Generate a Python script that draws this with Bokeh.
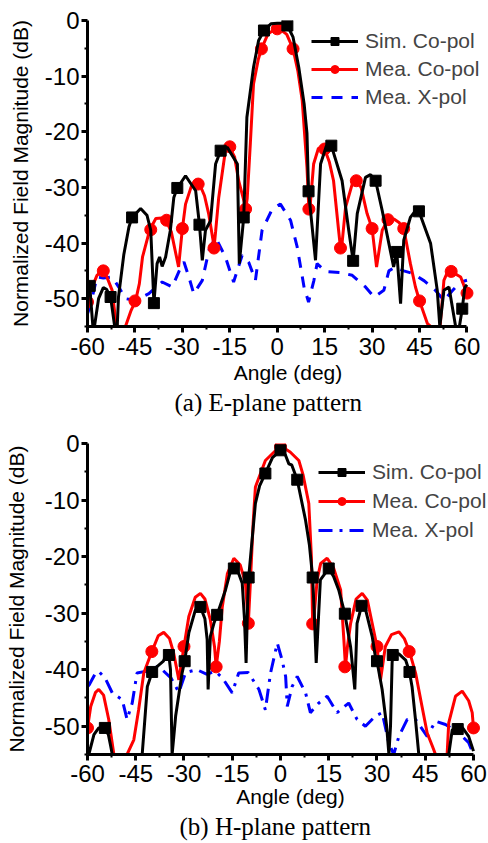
from bokeh.plotting import figure
from bokeh.layouts import column
from bokeh.models import (Legend, LegendItem, Title, FixedTicker, Range1d,
                          CustomJSTickFormatter)
from bokeh.embed import file_html
from bokeh.resources import INLINE

# ---------------- data : E-plane ----------------
e_sim_angle = [-60, -59.3, -58.3, -57.8, -56.5, -55, -54, -52.7, -51.4, -50.6, -50.2, -48.5, -46.9, -45.9, -43.2, -41.2, -40, -39, -38, -37.2, -36.4, -35.3, -33.8, -32.7, -31.6, -29, -25.8, -24.6, -23.7, -22.7, -21.1, -19.5, -17.9, -15.8, -12.6, -12, -10.6, -9.6, -7.5, -5.9, -4.2, -2, 0, 2, 3.2, 5, 6.8, 8.5, 9.4, 9.9, 12.1, 13.7, 15.5, 17.1, 20.5, 22.6, 24, 25.3, 27.9, 29.5, 31.1, 33.2, 35.3, 36.8, 37.8, 39, 40, 42.1, 44.2, 44.8, 48.5, 50.6, 51.4, 52.7, 54.3, 56.4, 57.6, 58.5, 59.3, 60]
e_sim_db = [-46.7, -47.7, -55, -55, -50, -48, -48.3, -49.7, -55, -55, -49.7, -42, -37.1, -35.4, -33.8, -35, -37.7, -50.8, -43.7, -42.5, -44.2, -42.5, -37.7, -31.8, -30.1, -27.9, -30.6, -36.7, -43.1, -37.7, -36, -25.8, -23.4, -22.8, -25.8, -43.7, -35.4, -17.4, -8.4, -3.6, -1.8, -0.6, -0.5, -0.5, -0.9, -3, -8.4, -15, -20.3, -30.7, -43.1, -25.8, -22.6, -22.5, -28.8, -37.7, -43.2, -34.7, -28.2, -27.7, -28.8, -34.2, -40.1, -44.3, -41.6, -50.9, -39.5, -35.4, -33.8, -34.3, -40.1, -48.5, -55, -48.5, -47.9, -55, -55, -51.8, -48, -47.5]
e_sim_mark_angle = [-59.3, -52.7, -45.9, -39, -31.6, -24.6, -17.9, -10.6, -4.2, 3.2, 9.9, 17.1, 24, 31.1, 37.8, 44.8, 58.5]
e_sim_mark_db = [-47.7, -49.7, -35.4, -50.8, -30.1, -36.7, -23.4, -35.4, -1.8, -0.9, -30.7, -22.5, -43.2, -28.8, -41.6, -34.3, -51.8]

e_mea_angle = [-60, -59.4, -57, -55, -54.5, -52.2, -51.1, -50.5, -48, -46.2, -44.8, -43.6, -42.6, -40.3, -38.4, -36.5, -35.2, -33.5, -31.2, -30, -29, -27, -25, -23, -21.7, -20.3, -20, -19.5, -18.5, -16.4, -15.3, -13.5, -12.2, -10.5, -10, -9.5, -8.5, -7.5, -6, -5, -3, 0, 3, 5, 6.5, 7.9, 9.4, 10, 10.3, 11.5, 13, 14.1, 15, 16.5, 17.8, 19.4, 20, 20.5, 21.6, 23.7, 25, 26.5, 28.4, 30, 31.4, 33.2, 35, 36.9, 38.5, 40, 42.1, 43.7, 45, 46.4, 47.5, 48.5, 51.5, 52.7, 54, 55, 58, 59, 60]
e_mea_db = [-50.6, -49.1, -45.8, -44.8, -45.2, -48.5, -53.9, -55, -55, -52.1, -50.4, -47.3, -42.5, -37.6, -35.6, -35.5, -35.9, -38, -44.3, -37.4, -33, -29.5, -28.8, -31.5, -34.7, -39.5, -40.9, -38, -31.8, -23.4, -22.5, -24.5, -28.8, -32.5, -33.9, -32, -22, -11.4, -7, -5.1, -2.5, -1.2, -2.5, -5.1, -9, -14.4, -26.4, -33.9, -34, -25.8, -23, -22.8, -23.1, -25.5, -28.8, -37.7, -40.9, -40, -33.6, -29.4, -28.8, -30, -34.7, -37.4, -44.3, -37.7, -35.8, -35.7, -36.3, -37.4, -43.7, -47.9, -50.4, -52.7, -54.5, -55, -55, -46.7, -45, -45.1, -46.1, -47.6, -49]
e_mea_mark_angle = [-60, -55, -45, -40, -35, -30, -25, -20, -15, -10, -5, 0, 5, 10, 15, 20, 25, 30, 35, 40, 45, 55, 60]
e_mea_mark_db = [-50.6, -45, -50.4, -37.6, -35.9, -37.4, -29.4, -40.9, -22.7, -33.9, -5.1, -1.5, -5.1, -33.9, -23.1, -40.9, -28.8, -37.4, -35.8, -37.4, -50.4, -45.1, -49]

e_xpol_angle = [-60, -59, -57, -55, -52.2, -50, -48, -44.8, -40.6, -36.4, -33.2, -31, -29.5, -28, -26.4, -23.7, -21.6, -19.5, -16.4, -13.8, -11.1, -9, -6.9, -4.8, -1.6, 1, 4.2, 6.3, 8.5, 9.9, 11.6, 12.6, 15.3, 20, 23.7, 27.9, 30.6, 33.7, 35.3, 37.4, 40, 43, 46.5, 50, 52.7, 55.5, 58, 60]
e_xpol_db = [-52.7, -51, -46.1, -46.3, -46.1, -48, -50, -50.3, -49.1, -47, -47.9, -45, -43.4, -46, -49.1, -46.7, -41.3, -39, -42.5, -47, -42.2, -43.5, -46.7, -37.7, -33.9, -33, -35.9, -40.7, -48, -50.6, -46.7, -43.7, -45.1, -45.3, -45.8, -47.9, -49.7, -48.5, -45, -44.3, -45, -45.5, -46.8, -48.5, -50.3, -48.5, -47, -46.7]

# ---------------- data : H-plane ----------------
h_sim_angle = [-59.6, -58, -56.5, -54.6, -53.5, -52.8, -52.3, -43, -42.2, -41.4, -39.9, -38.3, -36.4, -35.5, -34.7, -34.2, -33.7, -33.2, -32.6, -30.6, -29.8, -28.5, -26.5, -24.9, -23.5, -22.8, -22.5, -21.8, -20.7, -19.7, -17.1, -15.5, -14.5, -13, -11.9, -11.2, -10.7, -10.2, -9.9, -7.8, -6.5, -4.7, -2.5, 0, 1.5, 2.6, 3.5, 5.2, 7.8, 9, 10, 10.5, 11.1, 12.4, 15, 16.5, 18.1, 20, 20.7, 21.8, 23.1, 23.8, 25.2, 26.5, 28.5, 29.5, 30, 31.6, 33, 33.7, 34.2, 34.7, 34.9, 36.8, 38.9, 40.1, 40.9, 42, 43, 52.3, 53.4, 55.1, 56.5, 58.5, 60]
h_sim_db = [-55, -51.5, -50.3, -50.3, -51.5, -53.5, -55, -55, -49, -43, -40.4, -39.4, -38.5, -37.3, -37.4, -40, -55, -52, -48.2, -40.6, -38.5, -33.5, -29.5, -28.9, -31, -34.7, -43.5, -34.1, -31.8, -30.3, -25.9, -22.5, -22.1, -23, -24.7, -31, -38.8, -28, -23.7, -10.6, -7.5, -5.3, -2.5, -1.2, -2, -3.6, -3.8, -6.4, -13.6, -18, -23.7, -30, -38.8, -24.1, -22.1, -23.5, -25.9, -30.1, -32.4, -36, -43.5, -31.8, -28.7, -29.5, -34.1, -37.7, -38.5, -43.5, -50, -55, -50, -38.8, -37.4, -37.2, -38.3, -40.4, -43, -49, -55, -55, -50.6, -50.5, -50.2, -51.8, -54.4]
h_sim_mark_angle = [-54.6, -39.9, -34.7, -29.8, -24.9, -19.7, -14.5, -9.9, -4.7, 0, 5.2, 10, 15, 20, 25.2, 30, 34.9, 40.1, 55.1]
h_sim_mark_db = [-50.3, -40.4, -37.4, -38.5, -28.9, -30.3, -22.1, -23.7, -5.3, -1.2, -6.4, -23.7, -22.1, -30.1, -28.7, -38.5, -37.4, -40.4, -50.5]

h_mea_angle = [-60, -59, -57.5, -56.5, -55, -53.4, -51.8, -47.7, -45.6, -44.1, -42.5, -40, -38, -36.3, -34.5, -33.2, -31.6, -30, -28.5, -26.5, -24.9, -23.5, -21.8, -20.5, -20, -19, -18.1, -16.5, -14.5, -12.5, -10.9, -10, -9.4, -8.5, -7.8, -4.7, 0, 3, 5.7, 7, 8.8, 9.6, 10, 10.5, 11.4, 12.5, 14.5, 16.5, 18.7, 19.7, 20.2, 20.8, 21.8, 23.5, 25.4, 27, 28.5, 30, 31.1, 32.6, 34.5, 36.8, 38.5, 40.1, 42, 44, 45.6, 47.2, 48.2, 51.8, 52.3, 54.4, 56.5, 58.5, 59.6, 60]
h_mea_db = [-50.3, -46.5, -44, -43.5, -44.5, -48.8, -55, -55, -52.4, -47.1, -40.6, -36.8, -34, -33.4, -34.5, -37.1, -41.8, -35.9, -30.6, -27.2, -26.5, -27.5, -31.2, -36, -39.5, -35, -28.9, -23, -20.3, -21.5, -24.7, -31.8, -25, -14, -7.7, -3, -0.4, -1.5, -3, -5.5, -10.6, -20, -31.9, -30, -24.1, -21.2, -20.3, -22, -25.9, -34.7, -39.5, -36, -31.8, -27.5, -26.5, -27.7, -31.8, -35.9, -41.8, -35.9, -33.8, -33.3, -34.5, -36.8, -40.6, -46.5, -51.2, -53.5, -55, -55, -49.4, -44.7, -43.8, -45.5, -47.6, -50.3]
h_mea_mark_angle = [-60, -40, -30, -20, -10, 0, 10, 20, 30, 40, 60]
h_mea_mark_db = [-50.3, -36.8, -35.9, -39.5, -31.8, -0.6, -31.9, -39.5, -35.9, -36.8, -50.3]

h_xpol_angle = [-60, -59.5, -57.5, -56.5, -54.5, -52.3, -49.2, -47.7, -46.1, -44.6, -42, -40, -38.3, -36.8, -34, -31.6, -29.5, -26, -23, -20.2, -18, -15, -13, -10, -6.7, -4.7, -3.1, -1, 0.5, 1.6, 2.1, 3.6, 5.2, 7.8, 9.3, 11.9, 14.5, 17.6, 21.2, 23.8, 26.4, 29.5, 31.6, 33.7, 35.2, 36.8, 39.4, 42, 45.6, 48.2, 51.3, 55.4, 58.5, 60]
h_xpol_db = [-43, -42.7, -40.6, -40.3, -41.5, -44.1, -45.3, -48.8, -45.9, -40.6, -40.3, -40.3, -39.4, -40, -41.5, -44, -40.5, -40, -40.8, -40.3, -41.5, -44.1, -40.6, -40.5, -43.5, -47.1, -40.6, -35.3, -38.3, -41.2, -46.5, -43, -41.2, -44.1, -47.6, -45.9, -44.7, -47.6, -45.9, -48.8, -50, -48.2, -47.6, -53, -55, -51.8, -48.8, -48.8, -51.8, -49.1, -49.7, -51.2, -52.9, -55]

x_ticks = [-60, -45, -30, -15, 0, 15, 30, 45, 60]
x_minor = [-52.5, -37.5, -22.5, -7.5, 7.5, 22.5, 37.5, 52.5]
y_ticks = [-50, -40, -30, -20, -10, 0]
y_minor = [-55, -45, -35, -25, -15, -5]
labels = ["Sim. Co-pol", "Mea. Co-pol", "Mea. X-pol"]
captions = ["(a) E-plane pattern", "(b) H-plane pattern"]

SANS = "Liberation Sans"


def panel(caption, cap_off, fw, fh, xend, bl, bt, bb, xstand, xlstand,
          ylstand, sim, simm, mea, meam, xpol, xdash, leg_loc, leg_spacing):
    p = figure(frame_width=fw, frame_height=fh, x_range=Range1d(-60, xend),
               y_range=Range1d(-55, 0), output_backend="svg",
               toolbar_location=None, min_border_left=bl, min_border_right=0,
               min_border_top=bt, min_border_bottom=bb)
    p.outline_line_color = None
    p.grid.visible = False
    p.background_fill_color = "white"

    xp = p.line(xpol[0], xpol[1], line_color="#0000ff", line_width=3,
                line_dash=xdash)
    rl = p.line(mea[0], mea[1], line_color="#ff0000", line_width=3)
    rm = p.scatter(meam[0], meam[1], marker="circle", size=12,
                   fill_color="#ff0000", line_color="#ff0000")
    bk = p.line(sim[0], sim[1], line_color="black", line_width=3)
    bm = p.scatter(simm[0], simm[1], marker="square", size=11,
                   fill_color="black", line_color="black")

    p.xaxis.ticker = FixedTicker(ticks=x_ticks, minor_ticks=x_minor)
    p.yaxis.ticker = FixedTicker(ticks=y_ticks, minor_ticks=y_minor)
    p.xaxis.bounds = (-60, 60)
    fmt = "return String(tick)"
    for ax in (p.xaxis[0], p.yaxis[0]):
        ax.formatter = CustomJSTickFormatter(code=fmt)
        ax.axis_line_width = 3
        ax.major_tick_line_width = 3
        ax.minor_tick_line_width = 2
        ax.major_tick_out = 6
        ax.major_tick_in = 0
        ax.minor_tick_out = 3
        ax.minor_tick_in = 0
        ax.major_label_text_font = SANS
        ax.major_label_text_font_size = "24px"
        ax.major_label_text_color = "black"
        ax.axis_label_text_font = SANS
        ax.axis_label_text_font_style = "normal"
        ax.axis_label_text_color = "black"
        ax.axis_label_text_font_size = "21px"
    p.xaxis.axis_label = "Angle (deg)"
    p.yaxis.axis_label = "Normalized Field Magnitude (dB)"
    p.xaxis.major_label_standoff = xstand
    p.xaxis.axis_label_standoff = xlstand
    p.yaxis.major_label_standoff = 2
    p.yaxis.axis_label_standoff = ylstand

    leg = Legend(items=[LegendItem(label=labels[0], renderers=[bk, bm]),
                        LegendItem(label=labels[1], renderers=[rl, rm]),
                        LegendItem(label=labels[2], renderers=[xp])],
                 location=leg_loc, glyph_width=47, glyph_height=20,
                 label_height=20, label_standoff=7, spacing=leg_spacing,
                 padding=0, margin=0, border_line_color=None,
                 background_fill_alpha=0, label_text_font=SANS,
                 label_text_font_size="21px")
    p.add_layout(leg, "center")
    p.add_layout(Title(text=caption, align="left", offset=cap_off,
                       standoff=0, text_font="Liberation Serif",
                       text_font_size="25px", text_font_style="normal",
                       text_color="black"), "below")
    return p


top = panel(captions[0], 87, 401, 306, 66.8, 87, 20, 94, 5, 3, 10,
            (e_sim_angle, e_sim_db), (e_sim_mark_angle, e_sim_mark_db),
            (e_mea_angle, e_mea_db), (e_mea_mark_angle, e_mea_mark_db),
            (e_xpol_angle, e_xpol_db), "11 9", (224, 217), 4)
bot = panel(captions[1], 92, 406, 311, 66.22, 82, 23, 89, 4, 0, 14,
            (h_sim_angle, h_sim_db), (h_sim_mark_angle, h_sim_mark_db),
            (h_mea_angle, h_mea_db), (h_mea_mark_angle, h_mea_mark_db),
            (h_xpol_angle, h_xpol_db), "14 7 3 7", (232, 212), 5)

layout = column(top, bot, spacing=0)
open("out.html", "w").write(file_html(layout, INLINE))
